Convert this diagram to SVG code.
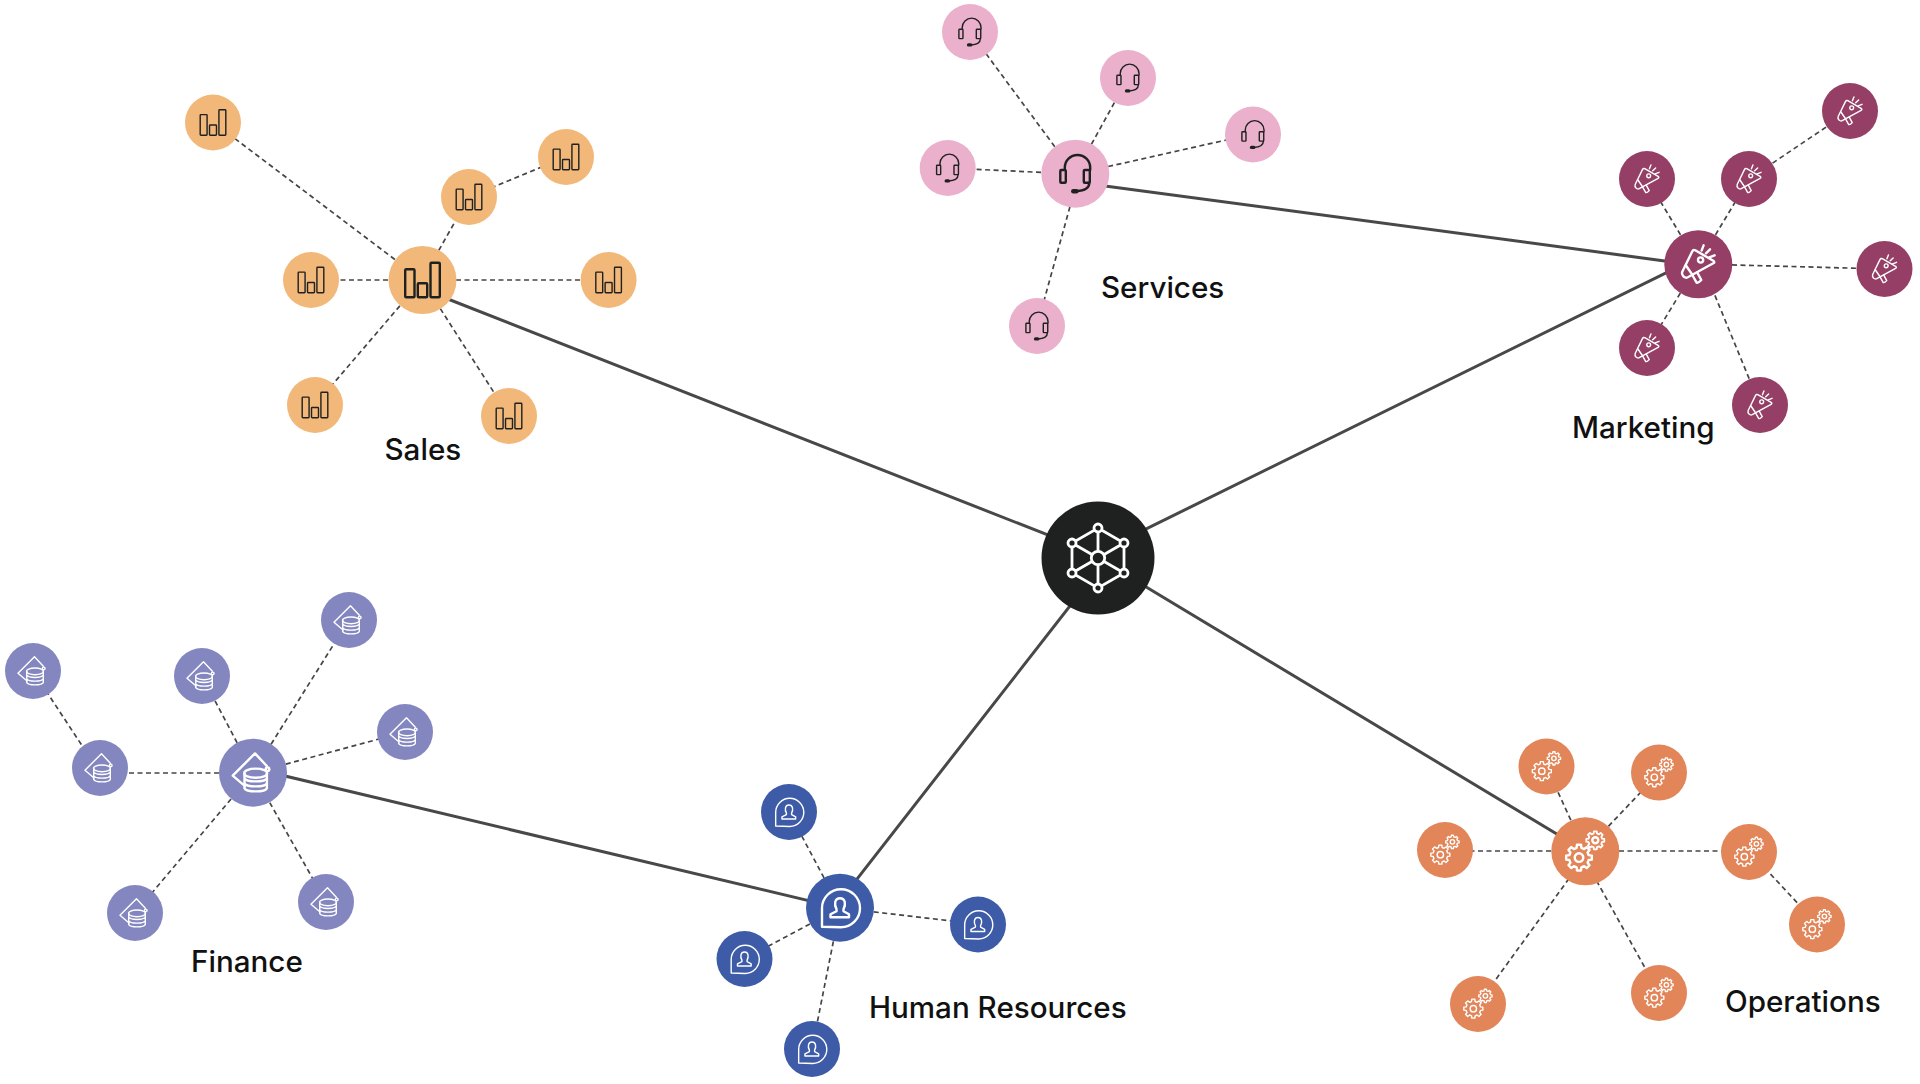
<svg xmlns="http://www.w3.org/2000/svg" width="1920" height="1084" viewBox="0 0 1920 1084">
<style>
.main{stroke:#484848;stroke-width:3;fill:none}
.dash{stroke:#454545;stroke-width:1.7;stroke-dasharray:5 3.5;fill:none}
.lbl{font-family:"Inter","Liberation Sans",sans-serif;font-weight:500;font-size:29.6px;fill:#111}
.ic{fill:none;stroke-width:var(--sw,2.4);stroke-linejoin:round;stroke-linecap:round}
.s{--sw:1.9}
.k{stroke:#1f2120}.w{stroke:#fff}
.sales{fill:#f2b879}.serv{fill:#eab0cc}.mkt{fill:#953f66}.fin{fill:#8487bf}.hr{fill:#3d5ba6}.ops{fill:#e28558}
</style>
<defs>
<g id="i-sales" class="ic k">
<rect x="-17.3" y="-10.7" width="9.3" height="28" rx="1"/><rect x="-4.7" y="3.3" width="9.4" height="14" rx="1"/><rect x="8" y="-17.3" width="9.3" height="34.6" rx="1"/>
</g>
<g id="i-serv" class="ic k">
<path d="M-10.5,-4 V-6 A12.7,12.7 0 0 1 14.9,-6 V-4"/>
<rect x="-15" y="-3.7" width="5.5" height="12.7" rx="1"/><rect x="8.5" y="-3.7" width="6" height="12.7" rx="1"/>
<path d="M14,9 C14,14 9,17 1,17.5"/><path d="M-2,17.5 H1" stroke-width="4.5"/>
</g>
<g id="i-mkt" class="ic w">
<path d="M-16,7.5 L-6,-13 Q-5,-15 -3,-14 L15,-3.5 Q17,-2 15,-1 L-10.5,13 Q-12.5,14 -14.5,12.5 Q-17,10 -16,7.5Z"/>
<path d="M-12.5,1 L-6,10.5"/>
<path d="M-6,10.7 L-1.7,18.3 Q0,19 3,15.7 L-1,8.3"/>
<circle cx="2.3" cy="-4.3" r="2.6"/>
<path d="M3.3,-13.7 L5.3,-19M7.7,-11 L11.7,-15M11,-7 L16.3,-9"/>
</g>
<g id="i-fin" class="ic w">
<path d="M-8,13.5 L-20.3,3 L2,-19.3 L14,-6.5"/>
<circle cx="14.5" cy="-3.5" r="1.8"/>
<path d="M-8.5,0.5 A11.3,4 0 1 1 13.9,0.5 A11.3,4 0 1 1 -8.5,0.5Z"/>
<path d="M-8.5,0.5 V15.5 A11.3,3.7 0 0 0 13.9,15.5 V0.5M-8.5,5.5 A11.3,3.7 0 0 0 13.9,5.5M-8.5,10.5 A11.3,3.7 0 0 0 13.9,10.5"/>
</g>
<g id="i-hr" class="ic w">
<path d="M-18,19 V0.5 A19,19 0 1 1 1,19.5 Z"/>
<path d="M-3.5,1.5 C-6,-3 -5.5,-9.5 0,-9.5 C5.5,-9.5 6,-3 3.5,1.5 V3.5 L9,6.5 V9.5 H-9.5 V6.5 L-3.5,3.5Z"/>
</g>
<path id="gear" d="M12.84,-2.03 L12.84,2.03 9.7,2.42 8.57,5.15 10.52,7.64 7.64,10.52 5.15,8.57 2.42,9.7 2.03,12.84 -2.03,12.84 -2.42,9.7 -5.15,8.57 -7.64,10.52 -10.52,7.64 -8.57,5.15 -9.7,2.42 -12.84,2.03 -12.84,-2.03 -9.7,-2.42 -8.57,-5.15 -10.52,-7.64 -7.64,-10.52 -5.15,-8.57 -2.42,-9.7 -2.03,-12.84 2.03,-12.84 2.42,-9.7 5.15,-8.57 7.64,-10.52 10.52,-7.64 8.57,-5.15 9.7,-2.42Z"/>
<g id="i-ops" class="ic w">
<use href="#gear" transform="translate(-6.3,6.3)"/><circle cx="-6.3" cy="6.3" r="4.3"/>
<use href="#gear" transform="translate(10,-11) scale(.7)" stroke-width="2.6"/><circle cx="10" cy="-11" r="3"/>
</g>
<circle id="big" r="34"/><circle id="sm" r="28"/>
</defs>

<g id="connectors">
<path class="main" d="M430,292 L1098,554.7M1075,181.9 L1698,265.4M1698,257.2 L1098,552.6M1098,570 L840,900.8M1098,558 L1585,851M253,768.4 L840,908.1"/>
<path class="dash" d="M422,280 L213,122M422,280 L469,197L566,157M422,280 H311M422,280 H609M422,280 L315,405M422,280 L509,416"/>
<path class="dash" d="M1075,174 L970,32M1075,174 L1128,78M1075,174 L1253,134M1075,174 L948,168M1079,174 L1037,326"/>
<path class="dash" d="M1698,264 L1749,179 L1850,111M1698,264 L1647,179M1698,264 L1884,269M1698,264 L1647,348M1702,264 L1760,405"/>
<path class="dash" d="M253,773 L349,620M253,773 L202,676M253,773 L405,732M253,773 H100 L33,671M253,773 L135,913M253,773 L326,902"/>
<path class="dash" d="M840,908 L789,812M840,908 L978,924M840,908 L744,959M840,908 L812,1049"/>
<path class="dash" d="M1585,851 L1546,766M1585,851 L1659,773M1585,851 H1445M1585,851 H1749 L1817,924M1580,851 L1659,993M1589,851 L1478,1004"/>
</g>

<g id="hub">
<circle cx="1098" cy="558" r="56.5" fill="#1f2120"/>
<g transform="translate(1098,558)" fill="#1f2120" stroke="#fff" stroke-width="2.8">
<path d="M0,-30 L26,-15 V15 L0,30 L-26,15 V-15Z M0,-30 V30 M-26,-15 L26,15 M26,-15 L-26,15" fill="none"/>
<circle cy="-30" r="4"/><circle cx="26" cy="-15" r="4"/><circle cx="26" cy="15" r="4"/><circle cy="30" r="4"/><circle cx="-26" cy="15" r="4"/><circle cx="-26" cy="-15" r="4"/><circle r="6.7"/>
</g>
</g>

<g id="sales-group" class="sales">
<g id="sales-hub" transform="translate(422.5,280)"><use href="#big"/><use href="#i-sales"/></g>
<g id="sales-1" transform="translate(213,122.5)"><use href="#sm"/><use class="s" href="#i-sales" transform="scale(.74)"/></g>
<g id="sales-2" transform="translate(566,157)"><use href="#sm"/><use class="s" href="#i-sales" transform="scale(.74)"/></g>
<g id="sales-3" transform="translate(469,197)"><use href="#sm"/><use class="s" href="#i-sales" transform="scale(.74)"/></g>
<g id="sales-4" transform="translate(311,280)"><use href="#sm"/><use class="s" href="#i-sales" transform="scale(.74)"/></g>
<g id="sales-5" transform="translate(608.6,280)"><use href="#sm"/><use class="s" href="#i-sales" transform="scale(.74)"/></g>
<g id="sales-6" transform="translate(315,405)"><use href="#sm"/><use class="s" href="#i-sales" transform="scale(.74)"/></g>
<g id="sales-7" transform="translate(509,416)"><use href="#sm"/><use class="s" href="#i-sales" transform="scale(.74)"/></g>
<text class="lbl" x="384.5" y="460">Sales</text>
</g>

<g id="services-group" class="serv">
<g id="serv-hub" transform="translate(1075.3,173.7)"><use href="#big"/><use href="#i-serv"/></g>
<g id="serv-1" transform="translate(970,32)"><use href="#sm"/><use class="s" href="#i-serv" transform="scale(.74)"/></g>
<g id="serv-2" transform="translate(1128,78)"><use href="#sm"/><use class="s" href="#i-serv" transform="scale(.74)"/></g>
<g id="serv-3" transform="translate(1253,134.5)"><use href="#sm"/><use class="s" href="#i-serv" transform="scale(.74)"/></g>
<g id="serv-4" transform="translate(947.7,168)"><use href="#sm"/><use class="s" href="#i-serv" transform="scale(.74)"/></g>
<g id="serv-5" transform="translate(1037,326)"><use href="#sm"/><use class="s" href="#i-serv" transform="scale(.74)"/></g>
<text class="lbl" x="1101" y="298">Services</text>
</g>

<g id="marketing-group" class="mkt">
<g id="mkt-hub" transform="translate(1698.3,264.3)"><use href="#big"/><use href="#i-mkt"/></g>
<g id="mkt-1" transform="translate(1850,111)"><use href="#sm"/><use class="s" href="#i-mkt" transform="scale(.74)"/></g>
<g id="mkt-2" transform="translate(1647,179)"><use href="#sm"/><use class="s" href="#i-mkt" transform="scale(.74)"/></g>
<g id="mkt-3" transform="translate(1749,179)"><use href="#sm"/><use class="s" href="#i-mkt" transform="scale(.74)"/></g>
<g id="mkt-4" transform="translate(1884.5,269)"><use href="#sm"/><use class="s" href="#i-mkt" transform="scale(.74)"/></g>
<g id="mkt-5" transform="translate(1647,348)"><use href="#sm"/><use class="s" href="#i-mkt" transform="scale(.74)"/></g>
<g id="mkt-6" transform="translate(1760,405)"><use href="#sm"/><use class="s" href="#i-mkt" transform="scale(.74)"/></g>
<text class="lbl" x="1572" y="438">Marketing</text>
</g>

<g id="finance-group" class="fin">
<g id="fin-hub" transform="translate(253,772.7)"><use href="#big"/><use href="#i-fin"/></g>
<g id="fin-1" transform="translate(349,620)"><use href="#sm"/><use class="s" href="#i-fin" transform="scale(.74)"/></g>
<g id="fin-2" transform="translate(33,671)"><use href="#sm"/><use class="s" href="#i-fin" transform="scale(.74)"/></g>
<g id="fin-3" transform="translate(202,676)"><use href="#sm"/><use class="s" href="#i-fin" transform="scale(.74)"/></g>
<g id="fin-4" transform="translate(405,732)"><use href="#sm"/><use class="s" href="#i-fin" transform="scale(.74)"/></g>
<g id="fin-5" transform="translate(100,768)"><use href="#sm"/><use class="s" href="#i-fin" transform="scale(.74)"/></g>
<g id="fin-6" transform="translate(135,913)"><use href="#sm"/><use class="s" href="#i-fin" transform="scale(.74)"/></g>
<g id="fin-7" transform="translate(326,902)"><use href="#sm"/><use class="s" href="#i-fin" transform="scale(.74)"/></g>
<text class="lbl" x="191" y="972">Finance</text>
</g>

<g id="hr-group" class="hr">
<g id="hr-hub" transform="translate(840,907.7)"><use href="#big"/><use href="#i-hr"/></g>
<g id="hr-1" transform="translate(789,812)"><use href="#sm"/><use class="s" href="#i-hr" transform="scale(.74)"/></g>
<g id="hr-2" transform="translate(978,924.5)"><use href="#sm"/><use class="s" href="#i-hr" transform="scale(.74)"/></g>
<g id="hr-3" transform="translate(744.5,959)"><use href="#sm"/><use class="s" href="#i-hr" transform="scale(.74)"/></g>
<g id="hr-4" transform="translate(812,1049)"><use href="#sm"/><use class="s" href="#i-hr" transform="scale(.74)"/></g>
<text class="lbl" x="869" y="1018">Human Resources</text>
</g>

<g id="operations-group" class="ops">
<g id="ops-hub" transform="translate(1585.3,851.3)"><use href="#big"/><use href="#i-ops"/></g>
<g id="ops-1" transform="translate(1546.5,766.5)"><use href="#sm"/><use class="s" href="#i-ops" transform="scale(.74)"/></g>
<g id="ops-2" transform="translate(1659,772.6)"><use href="#sm"/><use class="s" href="#i-ops" transform="scale(.74)"/></g>
<g id="ops-3" transform="translate(1445,850)"><use href="#sm"/><use class="s" href="#i-ops" transform="scale(.74)"/></g>
<g id="ops-4" transform="translate(1749,852)"><use href="#sm"/><use class="s" href="#i-ops" transform="scale(.74)"/></g>
<g id="ops-5" transform="translate(1817,924.5)"><use href="#sm"/><use class="s" href="#i-ops" transform="scale(.74)"/></g>
<g id="ops-6" transform="translate(1659,993)"><use href="#sm"/><use class="s" href="#i-ops" transform="scale(.74)"/></g>
<g id="ops-7" transform="translate(1478,1004)"><use href="#sm"/><use class="s" href="#i-ops" transform="scale(.74)"/></g>
<text class="lbl" x="1725" y="1012">Operations</text>
</g>
</svg>
